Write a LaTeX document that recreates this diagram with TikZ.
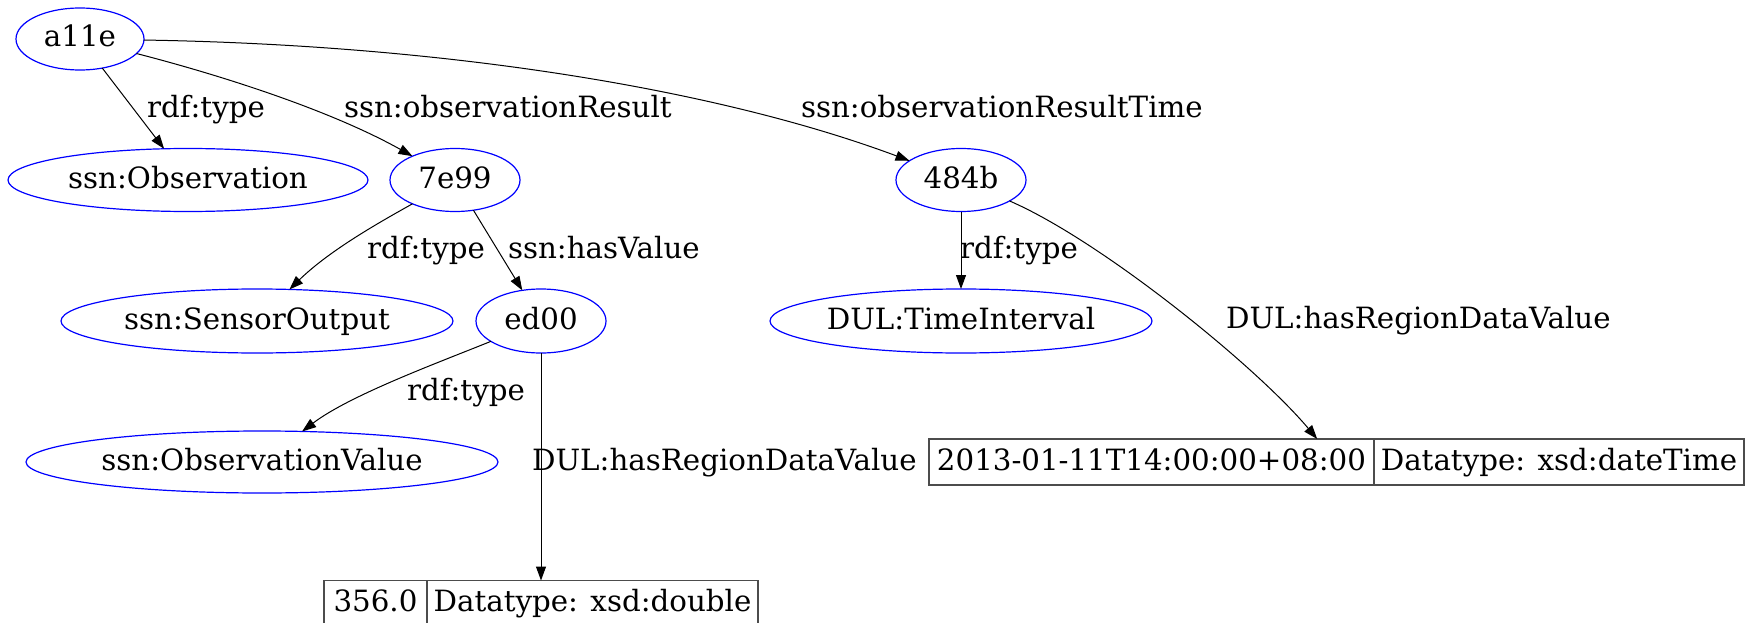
\documentclass[tikz,border=0pt]{standalone}
\usepackage{fontspec}
\setmainfont{DejaVu Serif}
\usetikzlibrary{shapes.geometric,arrows.meta}
\begin{document}
\begin{tikzpicture}[x=1pt,y=-1pt,
  every node/.style={font=\fontsize{29.3}{35}\selectfont, inner sep=0pt, outer sep=0pt},
  res/.style={ellipse, draw=blue, line width=1.2pt, text height=16pt, text depth=0pt},
  lit/.style={rectangle, draw=black!70, line width=1.2pt},
  lbl/.style={anchor=base west},
  cell/.style={anchor=base},
  edge/.style={draw=black, line width=1pt, -{Triangle[length=14pt,width=10pt]}}
]
\useasboundingbox (0,0) rectangle (1750,623);

% resource nodes
\node[res, minimum width=128pt, minimum height=62pt] (a11e) at (80,39) {\makebox[0pt]{a11e}};
\node[res, minimum width=360pt, minimum height=63pt] (obs) at (188,180) {\makebox[0pt]{ssn:Observation}};
\node[res, minimum width=130pt, minimum height=63pt] (n7e99) at (455,180) {\makebox[0pt]{7e99}};
\node[res, minimum width=130pt, minimum height=63pt] (n484b) at (961,180) {\makebox[0pt]{484b}};
\node[res, minimum width=392pt, minimum height=64pt] (so) at (257,321) {\makebox[0pt]{ssn:SensorOutput}};
\node[res, minimum width=130pt, minimum height=64pt] (ed00) at (541,321) {\makebox[0pt]{ed00}};
\node[res, minimum width=382pt, minimum height=64pt] (ti) at (961,321) {\makebox[0pt]{DUL:TimeInterval}};
\node[res, minimum width=472pt, minimum height=62pt] (ov) at (262,462) {\makebox[0pt]{ssn:ObservationValue}};

% literal records
\node[lit, minimum width=434pt, minimum height=46pt] (v356) at (541,603.5) {};
\draw[black!70, line width=1.2pt] ([xshift=103pt]v356.north west) -- ([xshift=103pt]v356.south west);
\node[cell] (v356a) at (375.5,611.5) {356.0};
\node[cell] (v356b) at (592.5,611.5) {Datatype: xsd:double};

\node[lit, minimum width=815pt, minimum height=46pt] (vdt) at (1336.5,462) {};
\draw[black!70, line width=1.2pt] ([xshift=445pt]vdt.north west) -- ([xshift=445pt]vdt.south west);
\node[cell] (vdta) at (1151.5,470) {2013-01-11T14:00:00+08:00};
\node[cell] (vdtb) at (1559,470) {Datatype: xsd:dateTime};

% edges
\draw[edge] (a11e) -- (obs);
\draw[edge] (a11e) .. controls (220,75) and (330,110) .. (n7e99);
\draw[edge] (a11e) .. controls (450,45) and (720,90) .. (n484b);
\draw[edge] (n7e99) .. controls (380,222) and (330,250) .. (so);
\draw[edge] (n7e99) -- (ed00);
\draw[edge] (ed00) .. controls (440,362) and (350,395) .. (ov);
\draw[edge] (ed00) -- (v356);
\draw[edge] (n484b) -- (ti);
\draw[edge] (n484b) .. controls (1100,240) and (1255,365) .. (vdt);

% edge labels
\node[lbl] (l1) at (147,118) {rdf:type};
\node[lbl] (l2) at (344,118) {ssn:observationResult};
\node[lbl] (l3) at (801,118) {ssn:observationResultTime};
\node[lbl] (l4) at (367,258) {rdf:type};
\node[lbl] (l5) at (508,258) {ssn:hasValue};
\node[lbl] (l6) at (960,258) {rdf:type};
\node[lbl] (l7) at (407,400) {rdf:type};
\node[lbl] (l8) at (532,470) {DUL:hasRegionDataValue};
\node[lbl] (l9) at (1226,328) {DUL:hasRegionDataValue};
\end{tikzpicture}
\end{document}
